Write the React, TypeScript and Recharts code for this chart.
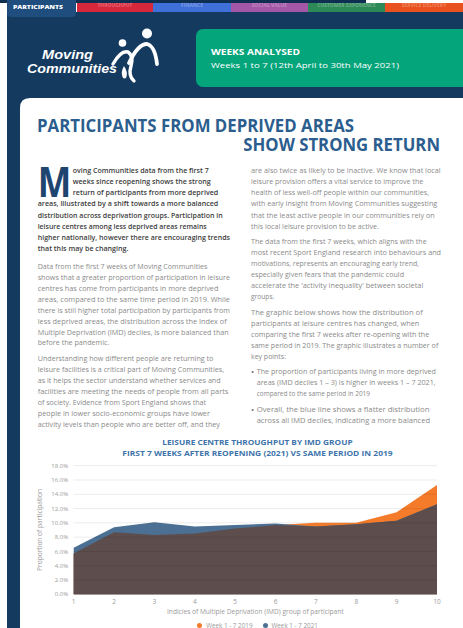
import React from 'react';
import { AreaChart, Area, XAxis, YAxis, Legend, ReferenceLine } from 'recharts';

const deciles = ['1', '2', '3', '4', '5', '6', '7', '8', '9', '10'];
const share2019 = [5.7, 8.7, 8.3, 8.5, 9.2, 9.7, 10.0, 10.0, 11.5, 15.3];
const share2021 = [6.5, 9.4, 10.1, 9.5, 9.7, 9.9, 9.5, 9.8, 10.3, 12.6];
const yTicks = [0, 2, 4, 6, 8, 10, 12, 14, 16, 18];

const chartData = deciles.map((d, i) => ({
  decile: d,
  y2019: share2019[i],
  y2021: share2021[i],
  overlap: Math.min(share2019[i], share2021[i]),
}));

const ORANGE = '#f47b2a';
const BLUE = '#4b7093';
const BROWN = '#5d4d4c';

type Line = [string, number, number, number]; // text, x, centerY, width

const leftPara1: Line[] = [
  ['oving Communities data from the first 7', 72.7, 171, 136],
  ['weeks since reopening shows the strong', 72.7, 182, 138],
  ['return of participants from more deprived', 72.7, 193, 145.6],
  ['areas, illustrated by a shift towards a more balanced', 37.7, 204, 180.6],
  ['distribution across deprivation groups. Participation in', 37.7, 215.5, 185],
  ['leisure centres among less deprived areas remains', 37.7, 227, 169],
  ['higher nationally, however there are encouraging trends', 37.7, 238, 192.3],
  ['that this may be changing.', 37.7, 249, 90.7],
];

const leftRest: Line[] = [
  ['Data from the first 7 weeks of Moving Communities', 37.7, 267, 169.7],
  ['shows that a greater proportion of participation in leisure', 37.7, 278, 192.3],
  ['centres has come from participants in more deprived', 37.7, 289, 180.7],
  ['areas, compared to the same time period in 2019. While', 37.7, 300, 192.3],
  ['there is still higher total participation by participants from', 37.7, 310.5, 192.3],
  ['less deprived areas, the distribution across the Index of', 37.7, 321.5, 189],
  ['Multiple Deprivation (IMD) deciles, is more balanced than', 37.7, 332.5, 191],
  ['before the pandemic.', 37.7, 343, 71.7],
  ['Understanding how different people are returning to', 37.7, 359, 175.7],
  ['leisure facilities is a critical part of Moving Communities,', 37.7, 370, 186.3],
  ['as it helps the sector understand whether services and', 37.7, 381, 183],
  ['facilities are meeting the needs of people from all parts', 37.7, 392, 190.7],
  ['of society. Evidence from Sport England shows that', 37.7, 403, 168.3],
  ['people in lower socio-economic groups have lower', 37.7, 414, 172.3],
  ['activity levels than people who are better off, and they', 37.7, 425, 182.3],
];

const rightLines: Line[] = [
  ['are also twice as likely to be inactive. We know that local', 251, 171, 189.7],
  ['leisure provision offers a vital service to improve the', 251, 182, 172.3],
  ['health of less well-off people within our communities,', 251, 193, 178],
  ['with early insight from Moving Communities suggesting', 251, 204, 186.3],
  ['that the least active people in our communities rely on', 251, 215.5, 183.7],
  ['this local leisure provision to be active.', 251, 226.5, 128],
  ['The data from the first 7 weeks, which aligns with the', 251, 242, 175.7],
  ['most recent Sport England research into behaviours and', 251, 253, 190],
  ['motivations, represents an encouraging early trend,', 251, 264, 168],
  ['especially given fears that the pandemic could', 251, 275, 153],
  ["accelerate the 'activity inequality' between societal", 251, 286, 172.3],
  ['groups.', 251, 297, 23.3],
  ['The graphic below shows how the distribution of', 251, 313, 171.7],
  ['participants at leisure centres has changed, when', 251, 324, 168.3],
  ['comparing the first 7 weeks after re-opening with the', 251, 335, 178.3],
  ['same period in 2019. The graphic illustrates a number of', 251, 346, 187.3],
  ['key points:', 251, 357, 35],
  ['The proportion of participants living in more deprived', 256.7, 372, 179.3],
  ['areas (IMD deciles 1 \u2013 3) is higher in weeks 1 \u2013 7 2021,', 256.7, 383, 179],
  ['compared to the same period in 2019', 256.7, 394, 113.3],
  ['Overall, the blue line shows a flatter distribution', 256.7, 410, 172.7],
  ['across all IMD deciles, indicating a more balanced', 256.7, 421, 173.3],
];

const tabs: [string, number, number, string][] = [
  ['THROUGHPUT', 77, 153, '#d7283b'],
  ['FINANCE', 153, 231, '#3f6fd8'],
  ['SOCIAL VALUE', 231, 308, '#a457a6'],
  ['CUSTOMER EXPERIENCE', 308, 385, '#2d8a57'],
  ['SERVICE DELIVERY', 385, 463, '#e9521e'],
];

const FONT = "'Open Sans', 'Noto Sans', sans-serif";

function TextLines({ lines, fill, weight }: { lines: Line[]; fill: string; weight: number }) {
  return (
    <g fontFamily={FONT} fontSize={6.4} fill={fill} fontWeight={weight}>
      {lines.map(([t, x, cy, w], i) => (
        <text key={i} x={x} y={cy + 2.2} textLength={w} lengthAdjust="spacingAndGlyphs">
          {t}
        </text>
      ))}
    </g>
  );
}

function Page() {
  return (
    <svg width={463} height={628} style={{ position: 'absolute', left: 0, top: 0 }}>
      <rect x={0} y={0} width={463} height={628} fill="#ffffff" />
      <rect x={0} y={0} width={366} height={3} fill="#0f2f52" />
      <rect x={7} y={12} width={456} height={616} fill="#143a60" />
      {tabs.map(([t, x0, x1, c], i) => (
        <g key={i}>
          <rect x={x0} y={3} width={x1 - x0} height={9} fill={c} />
          <text
            x={(x0 + x1) / 2}
            y={6.5}
            textAnchor="middle"
            fontFamily={FONT}
            fontSize={5}
            fontWeight={700}
            fill="#ffffff"
            fillOpacity={0.3}
          >
            {t}
          </text>
        </g>
      ))}
      <rect x={7} y={0} width={69} height={17} rx={4} fill="#1f4d7d" />
      <rect x={7} y={0} width={69} height={6} fill="#1f4d7d" />
      <text
        x={13}
        y={8.6}
        fontFamily={FONT}
        fontSize={5.6}
        fontWeight={800}
        fill="#ffffff"
        textLength={50}
        lengthAdjust="spacingAndGlyphs"
      >
        PARTICIPANTS
      </text>

      {/* logo */}
      <g fontFamily="'Liberation Sans', Arial, sans-serif" fontStyle="italic" fontWeight={700} fill="#ffffff">
        <text x={42} y={58.5} fontSize={12.3} textLength={51} lengthAdjust="spacingAndGlyphs">
          Moving
        </text>
        <text x={27} y={73} fontSize={12.3} textLength={90} lengthAdjust="spacingAndGlyphs">
          Communities
        </text>
      </g>
      <g fill="none" stroke="#ffffff" strokeLinecap="round">
        <path d="M113 64 Q121 50 128 52 Q134 56 131 66 Q128 76 134 81" strokeWidth={3.4} />
        <path d="M129 63 Q138 44 147 44 Q155 46 157 64" strokeWidth={3.8} />
      </g>
      <circle cx={122.5} cy={43} r={3.8} fill="#ffffff" />
      <circle cx={147} cy={33.5} r={5} fill="#ffffff" />
      <path d="M124 66 Q128 72 126.5 77 Q124.5 80 122.5 77 Q120.5 72 124 66 Z" fill="#ffffff" />

      {/* weeks box */}
      <rect x={196} y={29} width={290} height={58} rx={7} fill="#05a57b" />
      <text
        x={211}
        y={55}
        fontFamily={FONT}
        fontSize={8.2}
        fontWeight={700}
        fill="#ffffff"
        textLength={89}
        lengthAdjust="spacingAndGlyphs"
      >
        WEEKS ANALYSED
      </text>
      <text
        x={211}
        y={67.5}
        fontFamily={FONT}
        fontSize={7.8}
        fill="#ffffff"
        textLength={188}
        lengthAdjust="spacingAndGlyphs"
      >
        Weeks 1 to 7 (12th April to 30th May 2021)
      </text>

      {/* white card */}
      <path d="M20 628 L20 108 Q20 98 30 98 L463 98 L463 628 Z" fill="#ffffff" />

      {/* heading */}
      <g fontFamily={FONT} fontWeight={700} fill="#2b5e8e">
        <text x={37} y={131.5} fontSize={17} textLength={317} lengthAdjust="spacingAndGlyphs">
          PARTICIPANTS FROM DEPRIVED AREAS
        </text>
        <text x={243.3} y={151.3} fontSize={17} textLength={196.7} lengthAdjust="spacingAndGlyphs">
          SHOW STRONG RETURN
        </text>
      </g>

      {/* drop cap */}
      <text
        transform="translate(37.7 197) scale(1.78 2.03)"
        x={0}
        y={0}
        fontFamily={FONT}
        fontSize={20}
        fontWeight={700}
        fill="#1d4570"
      >
        M
      </text>

      <TextLines lines={leftPara1} fill="#3c3c3c" weight={600} />
      <TextLines lines={leftRest} fill="#8a8a8a" weight={400} />
      <TextLines lines={rightLines} fill="#8a8a8a" weight={400} />
      <circle cx={252.6} cy={372} r={1.1} fill="#777" />
      <circle cx={252.6} cy={410} r={1.1} fill="#777" />

      {/* chart title */}
      <g fontFamily={FONT} fontWeight={700} fill="#3e74aa" fontSize={7.4}>
        <text x={162.3} y={444.8} textLength={190.3} lengthAdjust="spacingAndGlyphs">
          LEISURE CENTRE THROUGHPUT BY IMD GROUP
        </text>
        <text x={122.3} y={455.8} textLength={270.3} lengthAdjust="spacingAndGlyphs">
          FIRST 7 WEEKS AFTER REOPENING (2021) VS SAME PERIOD IN 2019
        </text>
      </g>
    </svg>
  );
}

export default function App() {
  return (
    <div
      style={{
        position: 'absolute',
        left: 0,
        top: 0,
        width: 463,
        height: 628,
        overflow: 'hidden',
        background: '#fff',
      }}
    >
      <Page />
      <div style={{ position: 'absolute', left: 0, top: 455, width: 463, height: 180 }}>
        <AreaChart
          width={463}
          height={180}
          data={chartData}
          margin={{ top: 10.7, right: 26, bottom: 10.7, left: 0 }}
        >
          <XAxis
            dataKey="decile"
            axisLine={false}
            tickLine={false}
            tickSize={0}
            tickMargin={5.5}
            height={30}
            tick={{ fontSize: 6.5, fill: '#9a9a9a', fontFamily: FONT }}
            interval={0}
            label={{
              value: 'Indicies of Multiple Deprivation (IMD) group of participant',
              position: 'insideBottom',
              offset: 10,
              fill: '#9a9a9a',
              fontSize: 6.6,
              fontFamily: FONT,
            }}
          />
          <YAxis
            domain={[0, 18]}
            ticks={yTicks}
            axisLine={false}
            tickLine={false}
            tickSize={0}
            tickMargin={5.5}
            width={73.7}
            tick={{ fontSize: 6, fill: '#9a9a9a', fontFamily: FONT }}
            tickFormatter={(v: number) => `${v.toFixed(1)}%`}
            label={{
              value: 'Proportion of participation',
              angle: -90,
              position: 'insideLeft',
              offset: 40,
              fill: '#9a9a9a',
              fontSize: 6.6,
              fontFamily: FONT,
              style: { textAnchor: 'middle' },
            }}
          />
          <Area
            type="linear"
            dataKey="y2019"
            name="Week 1 - 7 2019"
            fill={ORANGE}
            fillOpacity={1}
            stroke="none"
            isAnimationActive={false}
          />
          <Area
            type="linear"
            dataKey="y2021"
            name="Week 1 - 7 2021"
            fill={BLUE}
            fillOpacity={1}
            stroke="none"
            isAnimationActive={false}
          />
          <Area
            type="linear"
            dataKey="overlap"
            name="overlap"
            fill={BROWN}
            fillOpacity={1}
            stroke="none"
            legendType="none"
            isAnimationActive={false}
          />
          {yTicks.map((t) => (
            <ReferenceLine key={t} y={t} stroke="#000" strokeOpacity={0.08} strokeWidth={1} />
          ))}
          <Legend
            layout="horizontal"
            verticalAlign="middle"
            align="center"
            iconType="circle"
            iconSize={5}
            wrapperStyle={{ top: 165.5, left: 31, width: 463, fontSize: 6.3, fontFamily: FONT }}
            formatter={(value: string) => <span style={{ color: '#9a9a9a' }}>{value}</span>}
          />
        </AreaChart>
      </div>
    </div>
  );
}
